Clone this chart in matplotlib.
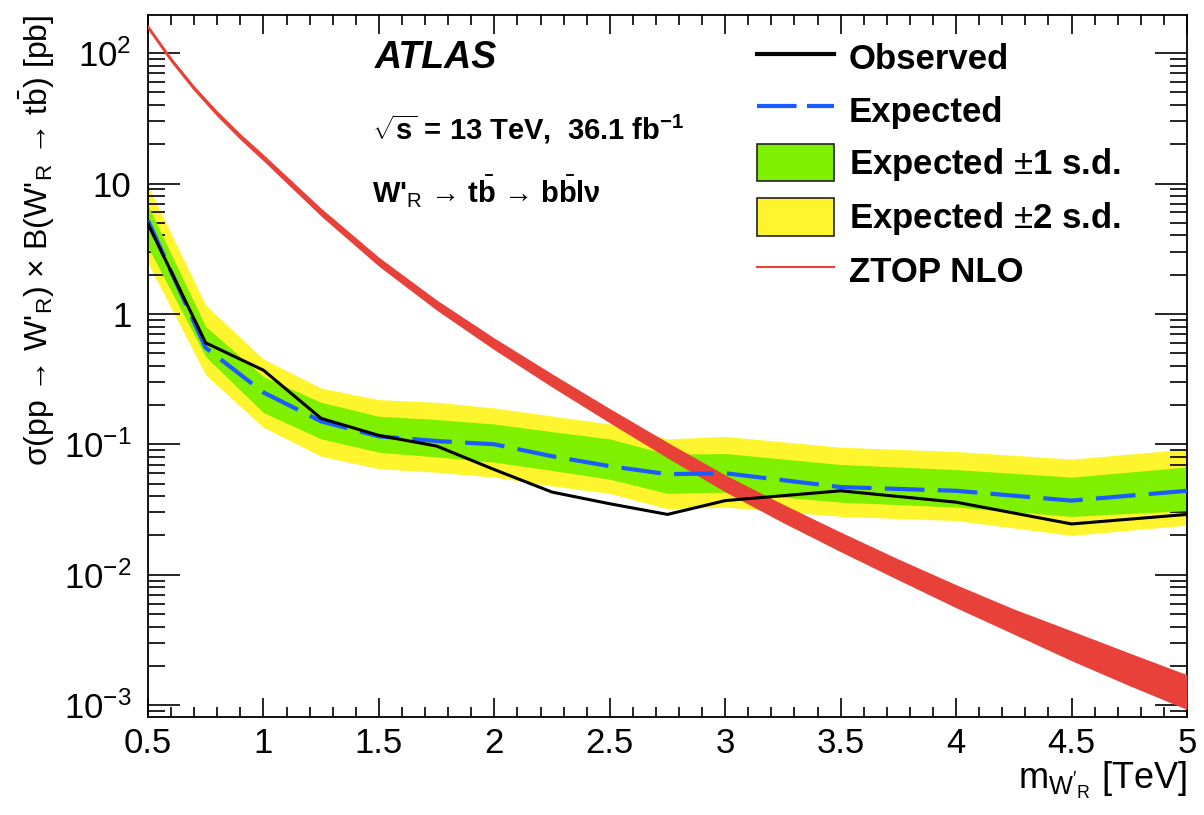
import matplotlib
matplotlib.use("Agg")
import matplotlib.pyplot as plt
from matplotlib.lines import Line2D
from matplotlib.patches import Patch
from matplotlib.ticker import FixedLocator, FuncFormatter, MultipleLocator, LogLocator

plt.rcParams['font.family'] = ['Liberation Sans', 'DejaVu Sans']
plt.rcParams['mathtext.fontset'] = 'custom'
plt.rcParams['mathtext.rm'] = 'Liberation Sans'
plt.rcParams['mathtext.it'] = 'Liberation Sans:italic'
plt.rcParams['mathtext.bf'] = 'Liberation Sans:bold'

# W'_R mass points [TeV] and 95% CL limits [pb]
mass = [0.5, 0.75, 1.0, 1.25, 1.5, 1.75, 2.0, 2.25, 2.5, 2.75, 3.0, 3.5, 4.0, 4.5, 5.0]
observed = [4.9, 0.6, 0.37, 0.158, 0.117, 0.097, 0.064, 0.043, 0.035, 0.029, 0.037, 0.044, 0.036, 0.0245, 0.029]
expected = [5.2, 0.55, 0.25, 0.15, 0.115, 0.106, 0.100, 0.081, 0.068, 0.059, 0.060, 0.047, 0.044, 0.037, 0.044]
exp_up1 = [6.8, 0.8, 0.33, 0.21, 0.164, 0.155, 0.143, 0.125, 0.11, 0.084, 0.085, 0.07, 0.064, 0.056, 0.067]
exp_dn1 = [3.25, 0.47, 0.175, 0.11, 0.087, 0.08, 0.073, 0.063, 0.054, 0.042, 0.043, 0.036, 0.033, 0.028, 0.031]
exp_up2 = [9.6, 1.17, 0.45, 0.27, 0.22, 0.21, 0.19, 0.165, 0.143, 0.11, 0.115, 0.095, 0.088, 0.077, 0.092]
exp_dn2 = [2.45, 0.34, 0.135, 0.081, 0.065, 0.061, 0.056, 0.048, 0.042, 0.032, 0.033, 0.028, 0.026, 0.02, 0.024]

# ZTOP NLO prediction with its uncertainty band
mass_th = [0.5, 0.6, 0.7, 0.8, 0.9, 1.0, 1.25, 1.5, 1.75, 2.0, 2.25, 2.5, 2.75, 3.0, 3.25, 3.5, 3.75,
           4.0, 4.25, 4.5, 4.75, 5.0]
theory = [158.5, 89.1, 53.7, 34.3, 22.9, 15.8, 6.03, 2.51, 1.17, 0.589, 0.309, 0.166, 0.0902, 0.0501, 0.0295,
          0.0178, 0.01096, 0.00684, 0.00437, 0.00285, 0.00188, 0.00126]
theory_up = [164, 92.7, 56.1, 36.0, 24.1, 16.7, 6.46, 2.72, 1.28, 0.653, 0.347, 0.188, 0.1035, 0.0582, 0.0347,
             0.0212, 0.01318, 0.00838, 0.00546, 0.00371, 0.00251, 0.00171]
theory_dn = [153.2, 85.7, 51.4, 32.7, 21.7, 14.9, 5.62, 2.32, 1.07, 0.531, 0.275, 0.146, 0.0786, 0.0432, 0.0251,
             0.0150, 0.00912, 0.00558, 0.00350, 0.00219, 0.00141, 0.000926]

c_yellow = '#fff52e'
c_green = '#7ff000'
c_red = '#e8413a'
c_blue = '#1a5cff'

fig = plt.figure(figsize=(12.04, 8.15), dpi=100)
ax = fig.add_axes([0.1229, 0.1202, 0.8630, 0.8614])

ax.fill_between(mass, exp_dn2, exp_up2, color=c_yellow, lw=0, zorder=1)
ax.fill_between(mass, exp_dn1, exp_up1, color=c_green, lw=0, zorder=2)
ax.fill_between(mass_th, theory_dn, theory_up, color=c_red, lw=0, zorder=3)
ax.plot(mass_th, theory, color=c_red, lw=2, zorder=3)
ax.plot(mass, expected, color=c_blue, lw=3, dashes=(9.5, 3.2), zorder=4)
ax.plot(mass, observed, color='black', lw=2.2, zorder=5)

ax.set_yscale('log')
ax.set_xlim(0.5, 5.0)
ax.set_ylim(8.1e-4, 196)

ax.xaxis.set_major_locator(MultipleLocator(0.5))
ax.xaxis.set_minor_locator(MultipleLocator(0.1))
ax.xaxis.set_major_formatter(FuncFormatter(lambda v, p: '%g' % v))
ax.yaxis.set_major_locator(FixedLocator([1e-3, 1e-2, 1e-1, 1, 10, 100]))
ax.yaxis.set_minor_locator(LogLocator(base=10, subs=range(2, 10), numticks=20))
ylabels = {1e-3: r'$10^{-3}$', 1e-2: r'$10^{-2}$', 1e-1: r'$10^{-1}$', 1: '1', 10: '10', 100: r'$10^{2}$'}
ax.yaxis.set_major_formatter(FuncFormatter(lambda v, p: ylabels.get(min(ylabels, key=lambda k: abs(k - v)), '')))
ax.yaxis.set_minor_formatter(FuncFormatter(lambda v, p: ''))

ax.tick_params(axis='x', which='major', direction='in', length=14, width=1.2, top=True, labelsize=25, pad=7)
ax.tick_params(axis='x', which='minor', direction='in', length=7, width=1.2, top=True)
ax.tick_params(axis='y', which='major', direction='in', length=23, width=1.2, right=True, labelsize=25, pad=12)
ax.tick_params(axis='y', which='minor', direction='in', length=12, width=1.2, right=True)
for s in ax.spines.values():
    s.set_linewidth(1.3)

ax.set_xlabel(r"m$_{\mathrm{W'}_{\mathrm{R}}}$ [TeV]", fontsize=26, loc='right', labelpad=0)
ax.set_ylabel(r"σ(pp → W'$_{\mathrm{R}}$) × B(W'$_{\mathrm{R}}$ → t$\bar{\mathrm{b}}$) [pb]",
              fontsize=23, loc='top', labelpad=5)

ax.text(0.218, 0.939, 'ATLAS', transform=ax.transAxes, fontsize=27, fontweight='bold', fontstyle='italic',
        va='center', ha='left')
ax.text(0.216, 0.838, r'$\sqrt{\mathbf{s}}$ = 13 TeV,  36.1 fb$^{\mathbf{-1}}$', transform=ax.transAxes,
        fontsize=21, fontweight='bold', va='center', ha='left')
ax.text(0.216, 0.748, r"W'$_{\mathrm{R}}$ → t$\bar{\mathbf{b}}$ → b$\bar{\mathbf{b}}$lν",
        transform=ax.transAxes, fontsize=21, fontweight='bold', va='center', ha='left')

handles = [Line2D([], [], color='black', lw=3),
           Line2D([], [], color=c_blue, lw=3, dashes=(9.5, 2.5)),
           Patch(facecolor=c_green, edgecolor='#222222', lw=1.2),
           Patch(facecolor=c_yellow, edgecolor='#222222', lw=1.2),
           Line2D([], [], color=c_red, lw=1.5)]
labels = ['Observed', 'Expected', r'Expected $\pm$1 s.d.', r'Expected $\pm$2 s.d.', 'ZTOP NLO']
leg = ax.legend(handles, labels, loc='upper left', bbox_to_anchor=(0.573, 0.986), frameon=False,
                prop={'size': 25, 'weight': 'bold'}, handlelength=2.2, handleheight=1.3,
                labelspacing=0.42, handletextpad=0.43, borderaxespad=0)

fig.savefig('out.png', dpi=100)
